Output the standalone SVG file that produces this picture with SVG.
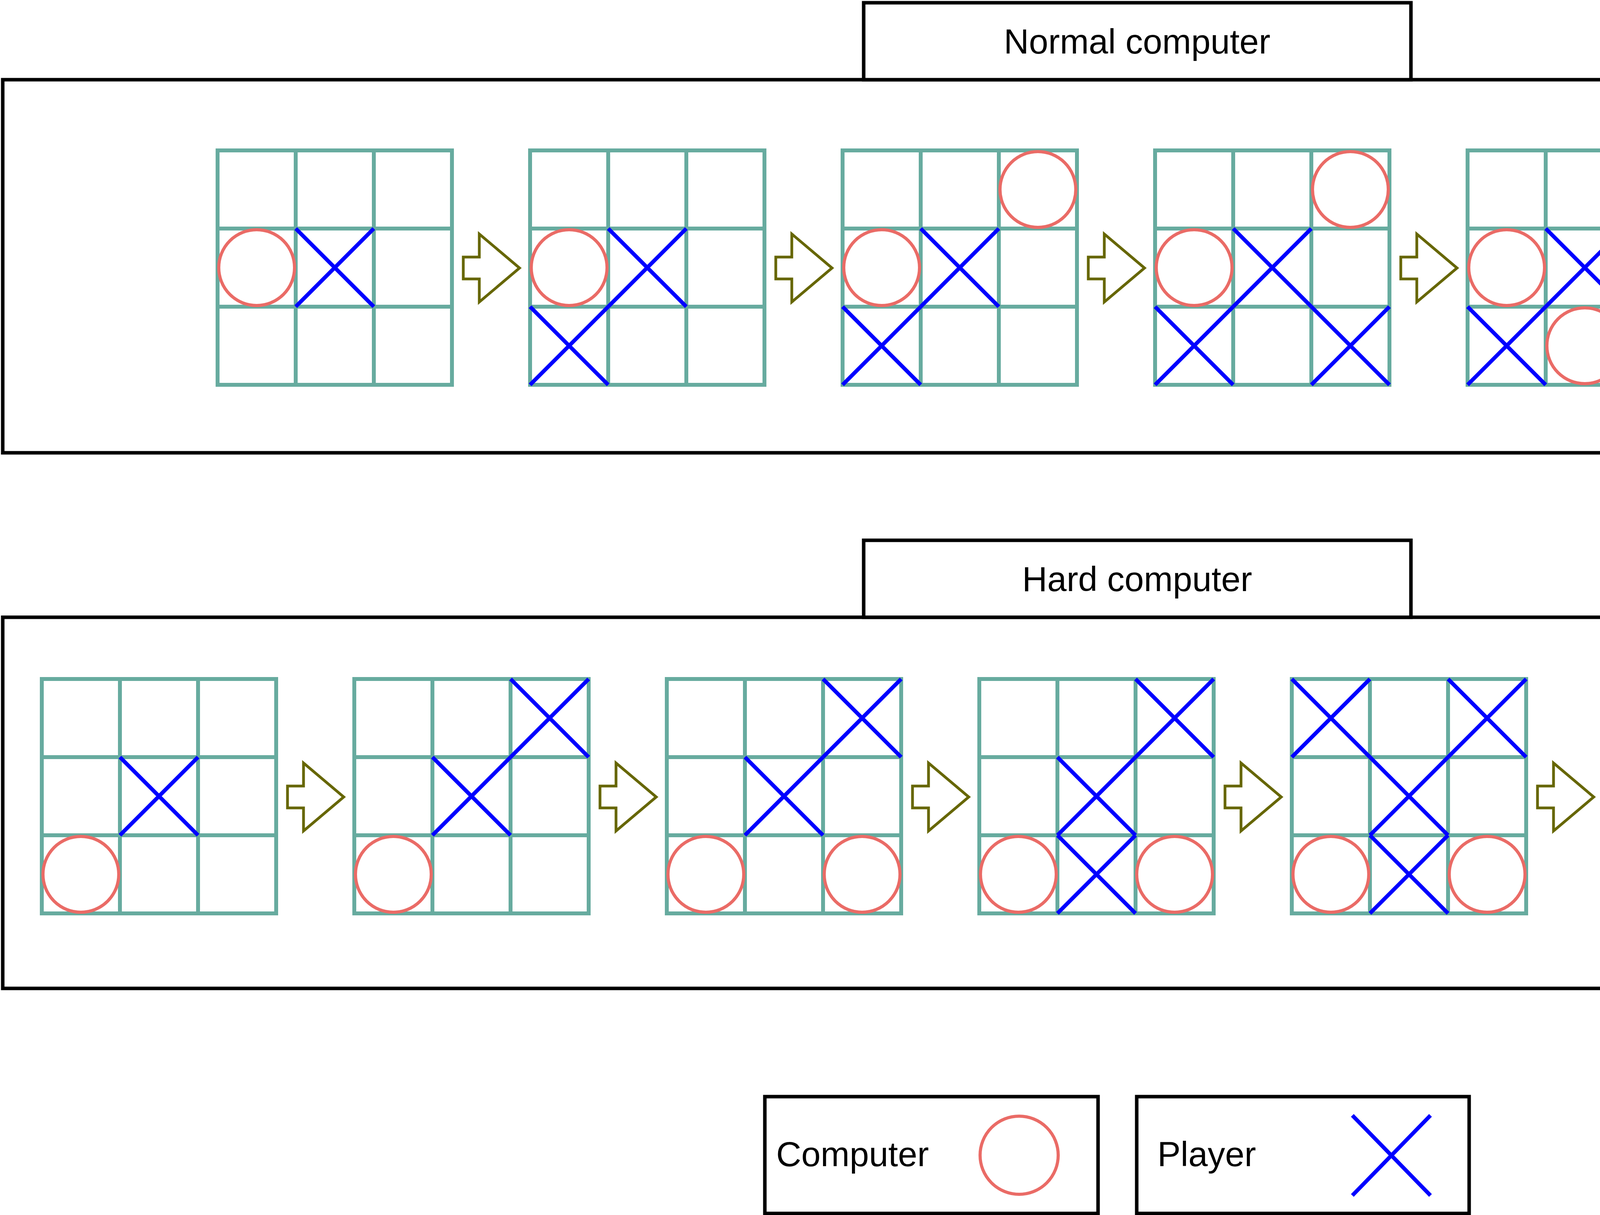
<svg xmlns="http://www.w3.org/2000/svg" xmlns:xlink="http://www.w3.org/1999/xlink" width="5715" height="3110" viewBox="0 0 5715 3110">
<style>
.box{fill:#ffffff;stroke:#000000;stroke-width:9}
.grid{fill:none;stroke:#67AB9F;stroke-width:10;stroke-linecap:square}
.o{fill:none;stroke:#EA6B66;stroke-width:8}
.x{fill:none;stroke:#0000FF;stroke-width:10}
.arrow{fill:#ffffff;stroke:#666600;stroke-width:7}
.win{stroke:#FF00FF;stroke-width:10}
.t{font-family:"Liberation Sans",Arial,sans-serif;font-size:89px;fill:#000000}
</style>
<defs>
<g id="gridS"><rect class="grid" x="0" y="0" width="600" height="600"/><path class="grid" d="M200,0V600M400,0V600M0,200H600M0,400H600"/></g>
<circle id="O" class="o" cx="100" cy="100" r="97"/>
<path id="X" class="x" d="M0,0L200,200M200,0L0,200"/>
<polygon id="arr" class="arrow" points="29,-28 70,-28 70,-87 173,0 70,87 70,28 29,28"/>
</defs>
<rect class="box" x="7" y="204" width="5701" height="955"/>
<rect class="box" x="2211" y="7" width="1401" height="197"/>
<text class="t" x="2911" y="137" text-anchor="middle">Normal computer</text>
<rect class="box" x="7" y="1580" width="5701" height="950"/>
<rect class="box" x="2211" y="1383" width="1401" height="197"/>
<text class="t" x="2911" y="1513" text-anchor="middle">Hard computer</text>
<g id="normal-1" transform="translate(557,385)"><use xlink:href="#gridS"/><use xlink:href="#O" x="0" y="200"/><use xlink:href="#X" x="200" y="200"/></g>
<g id="normal-2" transform="translate(1357,385)"><use xlink:href="#gridS"/><use xlink:href="#O" x="0" y="200"/><use xlink:href="#X" x="200" y="200"/><use xlink:href="#X" x="0" y="400"/></g>
<g id="normal-3" transform="translate(2157,385)"><use xlink:href="#gridS"/><use xlink:href="#O" x="400" y="0"/><use xlink:href="#O" x="0" y="200"/><use xlink:href="#X" x="200" y="200"/><use xlink:href="#X" x="0" y="400"/></g>
<g id="normal-4" transform="translate(2957,385)"><use xlink:href="#gridS"/><use xlink:href="#O" x="400" y="0"/><use xlink:href="#O" x="0" y="200"/><use xlink:href="#X" x="200" y="200"/><use xlink:href="#X" x="0" y="400"/><use xlink:href="#X" x="400" y="400"/></g>
<g id="normal-5" transform="translate(3757,385)"><use xlink:href="#gridS"/><use xlink:href="#O" x="400" y="0"/><use xlink:href="#O" x="0" y="200"/><use xlink:href="#X" x="200" y="200"/><use xlink:href="#X" x="0" y="400"/><use xlink:href="#O" x="200" y="400"/><use xlink:href="#X" x="400" y="400"/></g>
<g id="normal-6" transform="translate(4557,385)"><use xlink:href="#gridS"/><use xlink:href="#X" x="0" y="0"/><use xlink:href="#O" x="400" y="0"/><use xlink:href="#O" x="0" y="200"/><use xlink:href="#X" x="200" y="200"/><use xlink:href="#X" x="0" y="400"/><use xlink:href="#O" x="200" y="400"/><use xlink:href="#X" x="400" y="400"/><line class="win" x1="101" y1="50" x2="569" y2="540"/></g>
<g id="hard-1" transform="translate(107,1738)"><use xlink:href="#gridS"/><use xlink:href="#X" x="200" y="200"/><use xlink:href="#O" x="0" y="400"/></g>
<g id="hard-2" transform="translate(907,1738)"><use xlink:href="#gridS"/><use xlink:href="#X" x="400" y="0"/><use xlink:href="#X" x="200" y="200"/><use xlink:href="#O" x="0" y="400"/></g>
<g id="hard-3" transform="translate(1707,1738)"><use xlink:href="#gridS"/><use xlink:href="#X" x="400" y="0"/><use xlink:href="#X" x="200" y="200"/><use xlink:href="#O" x="0" y="400"/><use xlink:href="#O" x="400" y="400"/></g>
<g id="hard-4" transform="translate(2507,1738)"><use xlink:href="#gridS"/><use xlink:href="#X" x="400" y="0"/><use xlink:href="#X" x="200" y="200"/><use xlink:href="#X" x="200" y="400"/><use xlink:href="#O" x="0" y="400"/><use xlink:href="#O" x="400" y="400"/></g>
<g id="hard-5" transform="translate(3307,1738)"><use xlink:href="#gridS"/><use xlink:href="#X" x="0" y="0"/><use xlink:href="#X" x="400" y="0"/><use xlink:href="#X" x="200" y="200"/><use xlink:href="#X" x="200" y="400"/><use xlink:href="#O" x="0" y="400"/><use xlink:href="#O" x="400" y="400"/></g>
<g id="hard-6" transform="translate(4107,1740)"><use xlink:href="#gridS"/><use xlink:href="#X" x="0" y="0"/><use xlink:href="#O" x="200" y="0"/><use xlink:href="#X" x="400" y="0"/><use xlink:href="#X" x="200" y="200"/><use xlink:href="#X" x="200" y="400"/><use xlink:href="#O" x="0" y="400"/><use xlink:href="#O" x="400" y="400"/></g>
<g id="hard-7" transform="translate(4907,1748)"><use xlink:href="#gridS"/><use xlink:href="#X" x="0" y="0"/><use xlink:href="#O" x="200" y="0"/><use xlink:href="#X" x="400" y="0"/><use xlink:href="#O" x="0" y="200"/><use xlink:href="#X" x="200" y="200"/><use xlink:href="#X" x="400" y="200"/><use xlink:href="#O" x="0" y="400"/><use xlink:href="#X" x="200" y="400"/><use xlink:href="#O" x="400" y="400"/></g>
<g id="connectors">
<use xlink:href="#arr" x="1157" y="686"/>
<use xlink:href="#arr" x="1957" y="686"/>
<use xlink:href="#arr" x="2757" y="686"/>
<use xlink:href="#arr" x="3557" y="686"/>
<use xlink:href="#arr" x="4357" y="686"/>
<use xlink:href="#arr" x="707" y="2040"/>
<use xlink:href="#arr" x="1507" y="2040"/>
<use xlink:href="#arr" x="2307" y="2040"/>
<use xlink:href="#arr" x="3107" y="2040"/>
<use xlink:href="#arr" x="3907" y="2040"/>
<use xlink:href="#arr" x="4707" y="2040"/>
</g>
<g id="legend-computer"><rect class="box" x="1958" y="2807" width="853" height="299"/><text class="t" x="1987" y="2985">Computer</text><circle class="o" cx="2609" cy="2957" r="100"/></g>
<g id="legend-player"><rect class="box" x="2910" y="2807" width="851" height="299"/><text class="t" x="2963" y="2985">Player</text><path class="x" d="M3462,2855L3662,3060M3662,2855L3462,3060"/></g>
</svg>
